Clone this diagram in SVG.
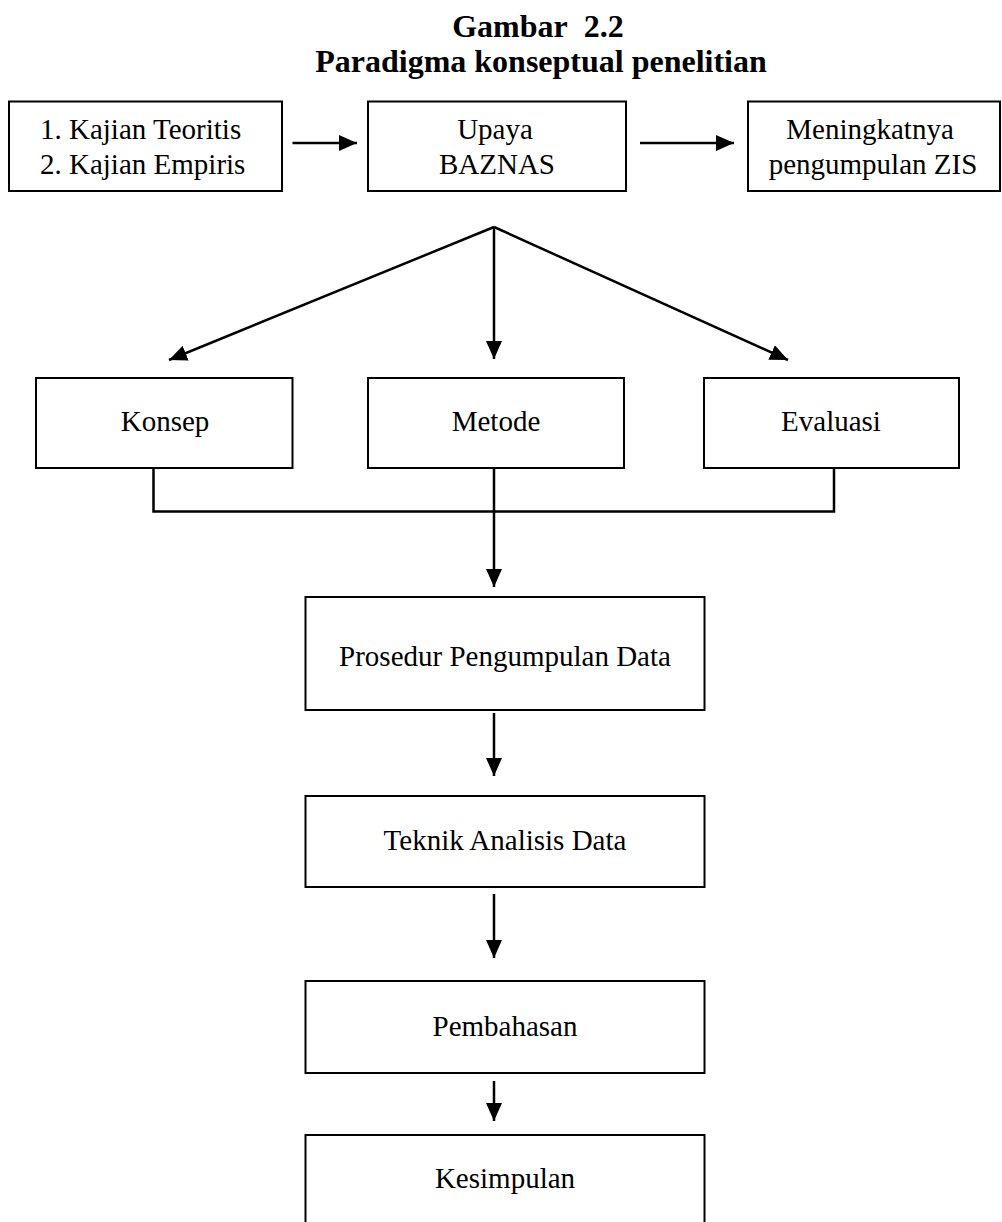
<svg xmlns="http://www.w3.org/2000/svg" width="1002" height="1222" viewBox="0 0 1002 1222">
<style>
.box{fill:#fff;stroke:#000;stroke-width:2}
.t{font-family:"Liberation Serif","Times New Roman",serif;font-size:29px;fill:#000;text-anchor:middle}
.l{text-anchor:start}
.h{font-family:"Liberation Serif","Times New Roman",serif;font-size:32px;font-weight:bold;fill:#000;text-anchor:middle}
.c{stroke:#000;stroke-width:2.5;fill:none}
</style>
<defs>
<marker id="a" viewBox="0 0 18 16" refX="18" refY="8" markerWidth="18" markerHeight="16" markerUnits="userSpaceOnUse" orient="auto">
<path d="M0,0 L18,8 L0,16 z" fill="#000"/>
</marker>
</defs>
<g id="title">
<text class="h" x="538" y="37">Gambar&#160; 2.2</text>
<text class="h" x="541" y="72">Paradigma konseptual penelitian</text>
</g>
<g id="kajian"><rect class="box" x="9" y="101.5" width="273" height="89.5"/>
<text class="t l" x="40" y="139">1. Kajian Teoritis</text><text class="t l" x="40" y="174">2. Kajian Empiris</text></g>
<g id="upaya"><rect class="box" x="368" y="101.5" width="258" height="89.5"/>
<text class="t" x="495" y="139">Upaya</text><text class="t" x="497" y="174">BAZNAS</text></g>
<g id="meningkat"><rect class="box" x="748" y="101.5" width="252" height="89.5"/>
<text class="t" x="870" y="139">Meningkatnya</text><text class="t" x="873" y="174">pengumpulan ZIS</text></g>
<g id="konsep"><rect class="box" x="36" y="378" width="256.5" height="90"/>
<text class="t" x="165" y="431">Konsep</text></g>
<g id="metode"><rect class="box" x="368" y="378" width="256" height="90"/>
<text class="t" x="496" y="431">Metode</text></g>
<g id="evaluasi"><rect class="box" x="704" y="378" width="255" height="90"/>
<text class="t" x="831" y="431">Evaluasi</text></g>
<g id="prosedur"><rect class="box" x="305.5" y="597" width="399" height="113"/>
<text class="t" x="505" y="666">Prosedur Pengumpulan Data</text></g>
<g id="teknik"><rect class="box" x="305.5" y="796" width="399" height="91"/>
<text class="t" x="505" y="850">Teknik Analisis Data</text></g>
<g id="pembahasan"><rect class="box" x="305.5" y="981" width="399" height="92"/>
<text class="t" x="505" y="1036">Pembahasan</text></g>
<g id="kesimpulan"><rect class="box" x="305.5" y="1135" width="399" height="92"/>
<text class="t" x="505" y="1188">Kesimpulan</text></g>
<g id="connectors">
<line class="c" x1="292.5" y1="143" x2="357" y2="143" marker-end="url(#a)"/>
<line class="c" x1="640" y1="143" x2="734" y2="143" marker-end="url(#a)"/>
<line class="c" x1="494" y1="227" x2="169" y2="360" marker-end="url(#a)"/>
<line class="c" x1="494" y1="227" x2="494" y2="359" marker-end="url(#a)"/>
<line class="c" x1="494" y1="227" x2="788" y2="360" marker-end="url(#a)"/>
<polyline class="c" points="153.5,468 153.5,511.5 834,511.5 834,468"/>
<line class="c" x1="494" y1="468" x2="494" y2="587" marker-end="url(#a)"/>
<line class="c" x1="494" y1="713" x2="494" y2="776" marker-end="url(#a)"/>
<line class="c" x1="494" y1="894" x2="494" y2="958" marker-end="url(#a)"/>
<line class="c" x1="494" y1="1081" x2="494" y2="1121" marker-end="url(#a)"/>
</g>
</svg>
